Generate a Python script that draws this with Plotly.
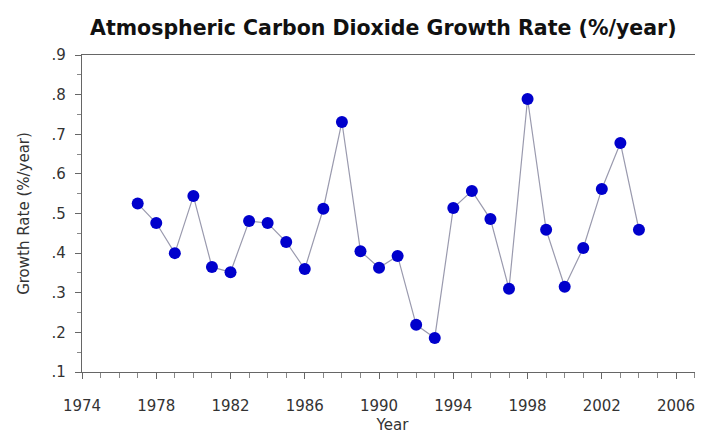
import plotly.graph_objects as go

years = list(range(1977, 2005))
growth_rate = [0.525, 0.476, 0.400, 0.544, 0.365, 0.352, 0.481, 0.476, 0.428, 0.360,
               0.512, 0.731, 0.405, 0.363, 0.393, 0.219, 0.186, 0.514, 0.557, 0.486,
               0.310, 0.789, 0.459, 0.315, 0.413, 0.562, 0.678, 0.459]

y_tick_vals = [0.1, 0.2, 0.3, 0.4, 0.5, 0.6, 0.7, 0.8, 0.9]
y_tick_text = [".1", ".2", ".3", ".4", ".5", ".6", ".7", ".8", ".9"]
x_tick_vals = [1974, 1978, 1982, 1986, 1990, 1994, 1998, 2002, 2006]

fig = go.Figure()
fig.add_trace(go.Scatter(
    x=years, y=growth_rate, mode="lines+markers",
    line=dict(color="#9a9aae", width=1.2),
    marker=dict(color="#0000cc", size=12, line=dict(width=0)),
    showlegend=False,
))

FONT = "DejaVu Sans, Verdana, sans-serif"
axis_font = dict(family=FONT, size=15, color="#333333")

fig.update_layout(
    width=695, height=427,
    margin=dict(l=74, r=0, t=47, b=63),
    paper_bgcolor="white", plot_bgcolor="white",
    title=dict(text="<b>Atmospheric Carbon Dioxide Growth Rate (%/year)</b>",
               x=0.54, xanchor="center", xref="container", y=0.953, yanchor="middle",
               font=dict(family=FONT, size=20.5, color="#111111")),
    font=axis_font,
)
fig.update_xaxes(
    range=[1974, 2007.45], tickvals=x_tick_vals, automargin=False,
    ticks="outside", ticklen=6, tickcolor="#666666", tickwidth=1,
    minor=dict(dtick=1, tick0=1974, ticks="outside", ticklen=5, tickcolor="#888888"),
    showline=True, linecolor="#666666", linewidth=1.2, mirror=True,
    showgrid=False, zeroline=False, tickfont=axis_font, ticklabelstandoff=14,
    title=dict(text="Year", font=axis_font, standoff=5),
)
fig.update_yaxes(
    range=[0.1, 0.9], tickvals=y_tick_vals, ticktext=y_tick_text, automargin=False,
    ticks="outside", ticklen=6, tickcolor="#666666", tickwidth=1,
    minor=dict(dtick=0.05, tick0=0.1, ticks="outside", ticklen=4, tickcolor="#888888"),
    showline=True, linecolor="#666666", linewidth=1.2,
    showgrid=False, zeroline=False, tickfont=axis_font, ticklabelstandoff=6,
    title=dict(text="Growth Rate (%/year)", font=axis_font, standoff=18),
)

fig.write_html("out.html")
